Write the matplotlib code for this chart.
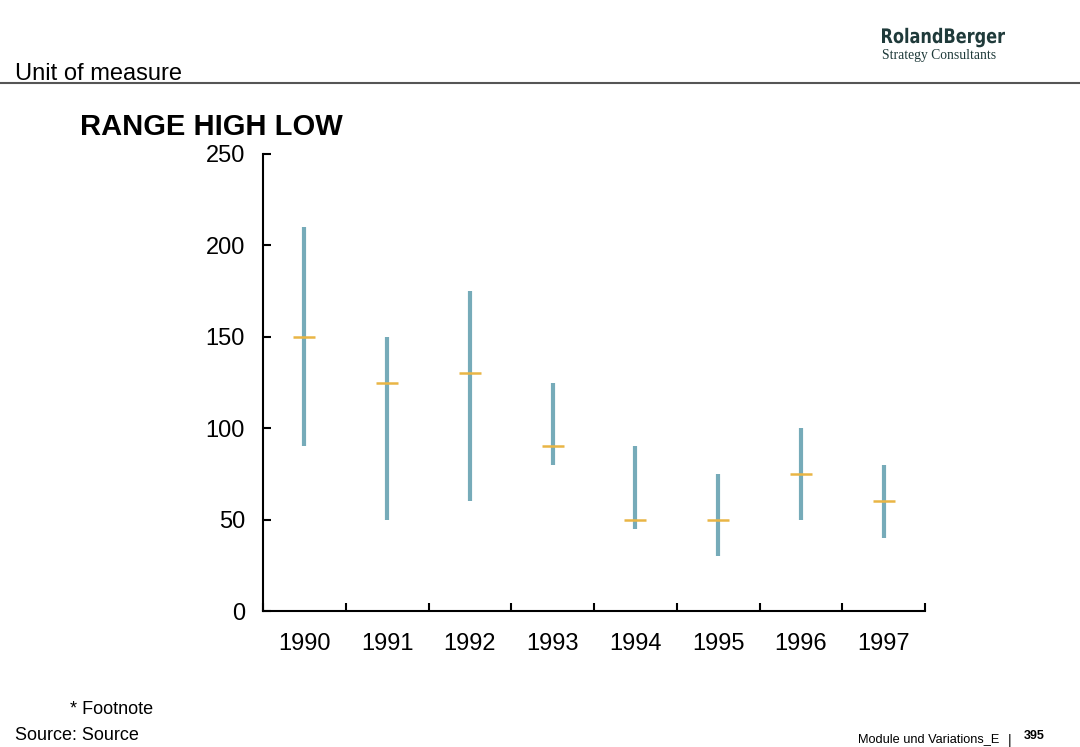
import numpy as np
import matplotlib.pyplot as plt
from matplotlib.lines import Line2D
from matplotlib.textpath import TextPath
from matplotlib.font_manager import FontProperties
from matplotlib.patches import PathPatch
from matplotlib.transforms import Affine2D, IdentityTransform

# Datos del grafico
years = ["1990", "1991", "1992", "1993", "1994", "1995", "1996", "1997"]
high = [210, 150, 175, 125, 90, 75, 100, 80]
low = [90, 50, 60, 80, 45, 30, 50, 40]
close = [150, 125, 130, 90, 50, 50, 75, 60]

bar_color = "#76abb9"
close_color = "#e9b545"

plt.rcParams["font.family"] = ["Liberation Sans", "DejaVu Sans"]

W, H = 1080, 747
fig = plt.figure(figsize=(W / 100, H / 100), dpi=100)
ax = fig.add_axes([263 / W, 1 - 611 / H, 662 / W, 457 / H])

x = np.arange(len(years))
ax.vlines(x, low, high, color=bar_color, linewidth=3)
ax.scatter(x, close, marker="_", s=230, color=close_color, linewidths=1.8, zorder=3)

ax.set_xlim(-0.5, len(years) - 0.5)
ax.set_ylim(0, 250)
ax.set_yticks([0, 50, 100, 150, 200, 250])
ax.set_xticks(x)
ax.set_xticklabels(years)
ax.set_xticks(np.arange(len(years) + 1) - 0.5, minor=True)
ax.tick_params(axis="x", which="major", length=0, pad=16, labelsize=17)
ax.tick_params(axis="x", which="minor", direction="in", length=6, width=1.5)
ax.tick_params(axis="y", direction="in", length=6, width=1.5, pad=13, labelsize=17)
ax.spines["top"].set_visible(False)
ax.spines["right"].set_visible(False)
ax.spines["left"].set_linewidth(1.5)
ax.spines["bottom"].set_linewidth(1.5)

# Encabezado
fig.add_artist(Line2D([0, 1], [1 - 83 / H, 1 - 83 / H], color="#555555", linewidth=1.5))
fig.text(15 / W, 1 - 80 / H, "Unit of measure", fontsize=17, va="baseline")
fig.text(80 / W, 1 - 135 / H, "RANGE HIGH LOW", fontsize=21, fontweight="bold", va="baseline")

# Logo comprimido horizontalmente
logo = TextPath((0, 0), "RolandBerger", size=20,
                prop=FontProperties(family="DejaVu Sans", weight="bold"))
ext = logo.get_extents()
sx = 123 / ext.width
tr = Affine2D().translate(-ext.x0, 0).scale(sx, 1).translate(882, H - 43) + IdentityTransform()
fig.add_artist(PathPatch(logo, transform=tr, facecolor="#1f3a3a", edgecolor="none"))
fig.text(882 / W, 1 - 59 / H, "Strategy Consultants", fontsize=9.8,
         color="#1f3a3a", va="baseline", family=["Liberation Serif", "DejaVu Serif"])

# Pie de pagina
fig.text(70 / W, 1 - 714 / H, "* Footnote", fontsize=13, va="baseline")
fig.text(15 / W, 1 - 740 / H, "Source: Source", fontsize=13, va="baseline")
fig.text(858 / W, 1 - 742 / H, "Module und Variations_E", fontsize=9.2, va="baseline")
fig.text(1008 / W, 1 - 745 / H, "|", fontsize=10, va="baseline")
fig.text(1024 / W, 1 - 739 / H, "395", fontsize=9, fontweight="bold", va="baseline")

fig.savefig("out.png", dpi=100)
